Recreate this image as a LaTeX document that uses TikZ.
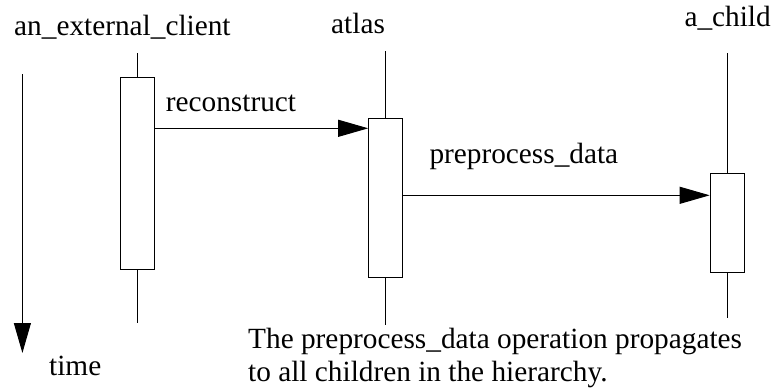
\documentclass[tikz,border=0pt]{standalone}
\usepackage{fontspec}
\setmainfont{Liberation Serif}
\usetikzlibrary{arrows.meta}
\begin{document}
\begin{tikzpicture}[x=1pt,y=-1pt,
  lbl/.style={inner sep=0pt, anchor=base west, font=\fontsize{29.3}{33.7}\selectfont},
  actbox/.style={draw=black, fill=white, line width=1pt, minimum width=34pt, inner sep=0pt},
  lifeline/.style={line width=1pt},
  msg/.style={line width=1pt, -{Triangle[length=30pt,width=17pt]}}]
\useasboundingbox (0,0) rectangle (772,389);
% labels
\node[lbl] (lclient) at (14,35) {an\_external\_client};
\node[lbl] (latlas) at (331,33.3) {atlas};
\node[lbl] (lchild) at (684.3,26.7) {a\_child};
% lifeline ends
\coordinate (ctop) at (137.5,53);
\coordinate (cbot) at (137.5,323);
\coordinate (atop) at (385.7,51);
\coordinate (abot) at (385.7,325);
\coordinate (htop) at (727.2,53);
\coordinate (hbot) at (727.2,318);
% activation boxes
\node[actbox, minimum height=191.7pt] (cbox) at (137.5,173.2) {};
\node[actbox, minimum height=158.7pt] (abox) at (385.7,198.3) {};
\node[actbox, minimum height=99.4pt] (hbox) at (727.2,223) {};
\draw[lifeline] (ctop) -- (cbox.north);
\draw[lifeline] (cbox.south) -- (cbot);
\draw[lifeline] (atop) -- (abox.north);
\draw[lifeline] (abox.south) -- (abot);
\draw[lifeline] (htop) -- (hbox.north);
\draw[lifeline] (hbox.south) -- (hbot);
% messages
\coordinate (m1) at (0,128.3);
\coordinate (m2) at (0,195.3);
\draw[msg] (cbox.east |- m1) -- (abox.west |- m1);
\draw[msg] (abox.east |- m2) -- (hbox.west |- m2);
\node[lbl] (lrec) at (165.7,111.7) {reconstruct};
\node[lbl] (lpre) at (429.3,163.3) {preprocess\_data};
% time arrow
\coordinate (ttop) at (22.4,74);
\coordinate (tbot) at (22.4,353);
\draw[msg] (ttop) -- (tbot);
\node[lbl] (ltime) at (49,375) {time};
% note
\node[lbl] (note1) at (248,348) {The preprocess\_data operation propagates};
\node[lbl] (note2) at (248,381.7) {to all children in the hierarchy.};
\end{tikzpicture}
\end{document}
